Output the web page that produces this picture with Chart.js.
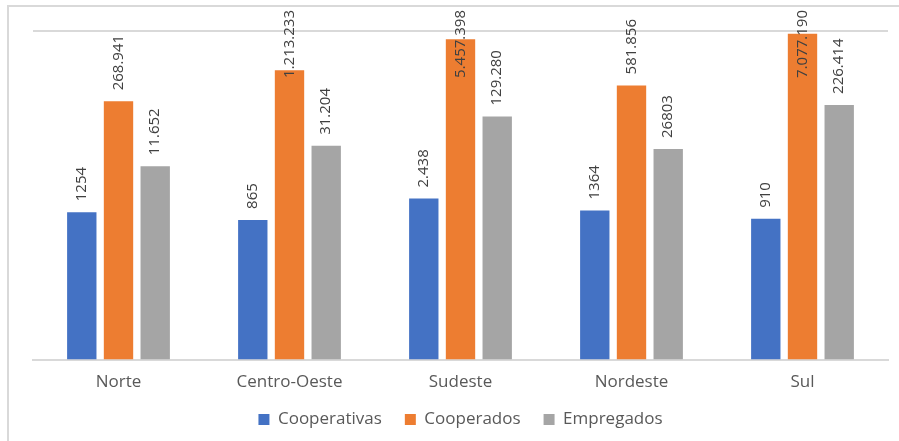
<!DOCTYPE html>
<html>
<head>
<meta charset="utf-8">
<script src="https://cdn.jsdelivr.net/npm/chart.js@4.4.1/dist/chart.umd.min.js"></script>
<style>
  html, body { margin: 0; padding: 0; background: #fff; }
  #wrap { position: relative; width: 899px; height: 441px; overflow: hidden; }
  #frame {
    position: absolute; left: 7px; top: 5px; width: 900px; height: 440px;
    border-left: 2px solid #d9d9d9; border-top: 2px solid #d9d9d9;
  }
  #chart { position: absolute; left: 0; top: 0; }
</style>
</head>
<body>
<div id="wrap">
  <div id="frame"></div>
  <canvas id="chart" width="899" height="441"></canvas>
</div>
<script>
const regioes = ["Norte", "Centro-Oeste", "Sudeste", "Nordeste", "Sul"];

const cooperativas = [1254, 865, 2438, 1364, 910];
const cooperados = [268941, 1213233, 5457398, 581856, 7077190];
const empregados = [11652, 31204, 129280, 26803, 226414];

// labels as printed on the chart (formatting is not consistent in the source)
const cooperativasLabels = ["1254", "865", "2.438", "1364", "910"];
const cooperadosLabels = ["268.941", "1.213.233", "5.457.398", "581.856", "7.077.190"];
const empregadosLabels = ["11.652", "31.204", "129.280", "26803", "226.414"];

// log axis, top line of the plot sits a bit under 10^7
const yMin = 1;
const yMax = 8100000;

const valueLabels = {
  id: "valueLabels",
  afterDatasetsDraw(chart) {
    const ctx = chart.ctx;
    ctx.save();
    ctx.font = "15px 'Open Sans'";
    ctx.fillStyle = "#404040";
    ctx.textAlign = "left";
    ctx.textBaseline = "middle";
    chart.data.datasets.forEach((ds, i) => {
      const meta = chart.getDatasetMeta(i);
      meta.data.forEach((bar, j) => {
        const text = ds.valueLabels[j];
        const w = ctx.measureText(text).width;
        let y = bar.y - 11;
        if (y - w < 10) y = 10 + w;
        ctx.save();
        ctx.translate(bar.x, y);
        ctx.rotate(-Math.PI / 2);
        ctx.fillText(text, 0, 0);
        ctx.restore();
      });
    });
    ctx.restore();
  },
};

// legend takes less room than chart.js wants, keeps its items where they are
const legendShift = 15;
const tightLegend = {
  id: "tightLegend",
  beforeInit(chart) {
    const legend = chart.legend;
    const fit = legend.fit;
    legend.fit = function () {
      fit.call(this);
      this.height -= legendShift;
    };
  },
  afterLayout(chart) {
    chart.legend.top -= legendShift + 1;
  },
};

new Chart(document.getElementById("chart"), {
  type: "bar",
  data: {
    labels: regioes,
    datasets: [
      { label: "Cooperativas", data: cooperativas, valueLabels: cooperativasLabels, backgroundColor: "#4472c4" },
      { label: "Cooperados", data: cooperados, valueLabels: cooperadosLabels, backgroundColor: "#ed7d31" },
      { label: "Empregados", data: empregados, valueLabels: empregadosLabels, backgroundColor: "#a5a5a5" },
    ],
  },
  options: {
    responsive: false,
    animation: false,
    devicePixelRatio: 1,
    layout: { padding: { left: 33, right: 11, top: 31, bottom: 2 } },
    datasets: {
      bar: { categoryPercentage: 0.644, barPercentage: 0.8 },
    },
    plugins: {
      legend: {
        position: "bottom",
        labels: {
          font: { family: "'Open Sans'", size: 17 },
          color: "#595959",
          boxWidth: 11,
          boxHeight: 11,
          padding: 23,
        },
      },
      tooltip: { enabled: false },
    },
    scales: {
      x: {
        grid: { display: false, drawTicks: false },
        border: { color: "#d9d9d9", width: 2 },
        ticks: { font: { family: "'Open Sans'", size: 17 }, color: "#595959", padding: 12 },
      },
      y: {
        type: "logarithmic",
        min: yMin,
        max: yMax,
        ticks: { display: false },
        border: { display: false },
        grid: {
          drawTicks: false,
          color: (c) => (c.tick && c.tick.value === yMax ? "#d9d9d9" : "transparent"),
          lineWidth: 2,
        },
      },
    },
  },
  plugins: [valueLabels, tightLegend],
});
</script>
</body>
</html>
